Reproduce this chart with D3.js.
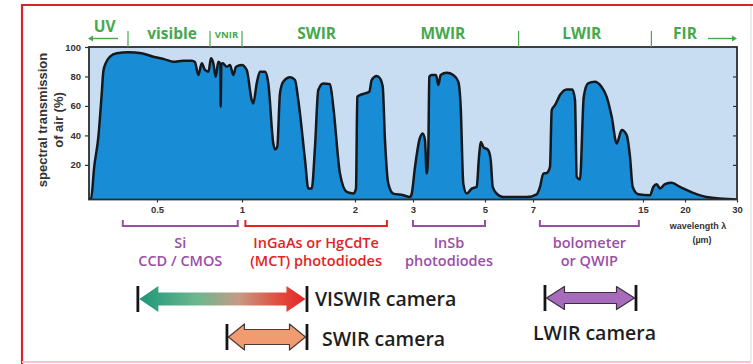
<!DOCTYPE html>
<html>
<head>
<meta charset="utf-8">
<script src="https://cdn.jsdelivr.net/npm/d3@7"></script>
<style>
  html, body { margin: 0; padding: 0; background: #fff; }
  svg { display: block; font-family: "Open Sans", "Noto Sans", sans-serif; }
</style>
</head>
<body>
<svg id="chart" width="753" height="364"></svg>
<script>
// Atmospheric transmission spectrum (wavelength in µm, transmission in %)
const wavelength = [
  0.25, 0.258, 0.270, 0.286, 0.299, 0.305, 0.314, 0.331, 0.357, 0.401,
  0.447, 0.487, 0.530, 0.562, 0.599, 0.631, 0.643, 0.656, 0.669, 0.681,
  0.694, 0.709, 0.731, 0.753, 0.778, 0.797, 0.800, 0.806, 0.819, 0.857,
  0.888, 0.918, 0.944, 0.997, 1.042, 1.086, 1.100, 1.130, 1.159, 1.204,
  1.233, 1.277, 1.292, 1.312, 1.336, 1.365, 1.425, 1.469, 1.498, 1.558,
  1.587, 1.617, 1.646, 1.675, 1.719, 1.779, 1.808, 1.867, 1.927, 1.985,
  2.017, 2.040, 2.086, 2.172, 2.247, 2.288, 2.374, 2.431, 2.478, 2.517,
  2.574, 2.660, 2.833, 2.948, 2.978, 3.056, 3.175, 3.269, 3.333, 3.381,
  3.425, 3.453, 3.519, 3.639, 3.703, 3.769, 3.936, 4.119, 4.258, 4.325,
  4.397, 4.492, 4.631, 4.769, 4.833, 4.881, 4.953, 5.138, 5.238, 5.321,
  5.488, 5.763, 6.738, 7.269, 7.509, 7.749, 7.996, 8.236, 8.36, 8.6,
  8.964, 9.451, 9.858, 10.055, 10.178, 10.418, 10.691, 11.004, 11.491, 11.978,
  12.36, 12.724, 13.087, 13.451, 13.815, 14.055, 14.25, 14.658, 15.833, 16.226,
  16.631, 17.024, 17.619, 18.417, 19.405, 21.566, 24.094, 30
];
const transmission = [
  -3, -2.9, 18.6, 39, 68.5, 83.2, 88.9, 93.4, 95.7, 96.4,
  95.7, 93.4, 91.6, 90, 90.7, 90.7, 89.8, 81, 88.9, 84.4,
  83.2, 92.3, 88.9, 79.8, 90, 88.4, 59.4, 88.4, 88.9, 86.6,
  87.8, 81, 86.6, 87.8, 84.4, 64, 61.7, 75.3, 83.2, 83.2,
  75.3, 34.5, 30.5, 32.2, 68.5, 76.4, 79.4, 77.6, 64, 23.2,
  3.9, 3.9, 32.2, 70.8, 75.3, 74.8, 59.4, 14.1, 1.6, 0.5,
  3.9, 66.2, 67.4, 68.5, 69.6, 77.6, 80.3, 78.7, 73, 36.8,
  7.3, 0.5, -0.6, -1.8, 0.5, 18.6, 36.8, 41.3, 36.8, 14.1,
  30, 79.8, 81, 81, 74.2, 81, 82.5, 81, 76.4, 59.4,
  7.3, 0.5, 3.9, 5, 25.4, 35.6, 32.2, 30, 23.2, 5,
  0.5, -1.8, -1.8, 0, 5, 14.1, 14.5, 18.6, 57.2, 60.6,
  67.4, 71.2, 71.2, 64, 11.8, 10, 66.2, 75.3, 76.4, 73,
  66.2, 52.6, 34.5, 43.6, 40.2, 25.4, 5, 0.1, -0.6, 5,
  6.9, 3.9, 6.9, 7.8, 5, 1, -1.8, -3.5
];

// Axis ticks
const xTicks = [0.5, 1, 2, 3, 5, 7, 15, 20, 30];
const xTickLabels = ["0.5", "1", "2", "3", "5", "7", "15", "20", "30"];
const yTicks = [20, 40, 60, 80, 100];

// Spectral band names along the top, with their boundaries (µm)
const bandNames = ["UV", "visible", "VNIR", "SWIR", "MWIR", "LWIR", "FIR"];
const bandLabelAt = [0.31, 0.557, 0.855, 1.66, 3.83, 10.55, 20];
const bandBounds = [0.4, 0.7, 1, 6.4, 16];

// Detector technologies and the ranges they cover (µm)
const detectorLines = [["Si", "CCD / CMOS"], ["InGaAs or HgCdTe", "(MCT) photodiodes"], ["InSb", "photodiodes"], ["bolometer", "or QWIP"]];
const detectorFrom = [0.38, 1.03, 3.0, 7.5];
const detectorTo = [0.96, 2.55, 5.0, 14.7];
const detectorColor = ["#9a4fa6", "#e2231f", "#9a4fa6", "#9a4fa6"];

// Camera types and their spectral ranges (µm)
const cameraNames = ["VISWIR camera", "SWIR camera", "LWIR camera"];
const cameraFrom = [0.434, 0.859, 7.87];
const cameraTo = [1.575, 1.575, 14.49];

const svg = d3.select("#chart");
const W = 753, H = 364;
const plot = { left: 89, right: 737, top: 47, bottom: 199.5 };

// Piecewise wavelength axis: each section is stretched independently
const xBreaks = [0.25, 0.4, 0.5, 0.7, 1, 2, 3, 5, 7, 15, 20, 30];
const xPixels = [89, 128, 157, 210, 242, 355, 413, 485, 533, 643, 685, 737];
const x = d3.scaleLinear().domain(xBreaks).range(xPixels).clamp(true);
const y = d3.scaleLinear().domain([-3.5, 100]).range([plot.bottom, plot.top]);

const green = "#46a84c";
const labelFont = "Liberation Sans, Arial, sans-serif";

// Outer frame
svg.append("line").attr("x1", 22).attr("x2", W).attr("y1", 5).attr("y2", 5)
  .attr("stroke", "#d8232a").attr("stroke-width", 2.2);
svg.append("line").attr("x1", 22).attr("x2", 22).attr("y1", 4).attr("y2", H)
  .attr("stroke", "#d8232a").attr("stroke-width", 2.2);
svg.append("line").attr("x1", 22).attr("x2", 751).attr("y1", 362).attr("y2", 362)
  .attr("stroke", "#f3c3cf").attr("stroke-width", 2);
svg.append("line").attr("x1", 751).attr("x2", 751).attr("y1", 6).attr("y2", 362)
  .attr("stroke", "#e6e6e6").attr("stroke-width", 1.5);

// Plot background
svg.append("rect")
  .attr("x", plot.left).attr("y", plot.top)
  .attr("width", plot.right - plot.left).attr("height", plot.bottom - plot.top)
  .attr("fill", "#c8ddf2");

const defs = svg.append("defs");
defs.append("clipPath").attr("id", "plotClip").append("rect")
  .attr("x", plot.left).attr("y", plot.top)
  .attr("width", plot.right - plot.left).attr("height", plot.bottom - plot.top);

const spectrum = d3.zip(wavelength, transmission);
const area = d3.area()
  .x(d => x(d[0])).y0(y(-3.5)).y1(d => y(d[1]))
  .curve(d3.curveMonotoneX);
const line = d3.line()
  .x(d => x(d[0])).y(d => y(d[1]))
  .curve(d3.curveMonotoneX);

const g = svg.append("g").attr("clip-path", "url(#plotClip)");
g.append("path").datum(spectrum).attr("d", area).attr("fill", "#198cd6");
g.append("path").datum(spectrum).attr("d", line)
  .attr("fill", "none").attr("stroke", "#15191e").attr("stroke-width", 2.5)
  .attr("stroke-linejoin", "round");

// Plot border
svg.append("rect")
  .attr("x", plot.left).attr("y", plot.top)
  .attr("width", plot.right - plot.left).attr("height", plot.bottom - plot.top)
  .attr("fill", "none").attr("stroke", "#2a2d30").attr("stroke-width", 1.8);

// Left axis
const yAxis = d3.axisLeft(y).tickValues(yTicks).tickSize(4).tickPadding(4);
const yg = svg.append("g").attr("transform", `translate(${plot.left},0)`).call(yAxis);
yg.select(".domain").remove();
yg.selectAll("line").attr("stroke", "#333").attr("stroke-width", 1.2);
yg.selectAll("text").attr("font-size", 9.5).attr("font-weight", 700)
  .attr("fill", "#333").attr("font-family", labelFont);

// Right axis: inner ticks only
const yAxisR = d3.axisLeft(y).tickValues(yTicks.slice(0, 4)).tickSize(4).tickFormat("");
const yr = svg.append("g").attr("transform", `translate(${plot.right},0)`).call(yAxisR);
yr.select(".domain").remove();
yr.selectAll("line").attr("stroke", "#333").attr("stroke-width", 1.2);

// Bottom axis
const xAxis = d3.axisBottom(x).tickValues(xTicks)
  .tickFormat((d, i) => xTickLabels[i]).tickSize(3).tickPadding(4);
const xg = svg.append("g").attr("transform", `translate(0,${plot.bottom})`).call(xAxis);
xg.select(".domain").remove();
xg.selectAll("line").attr("stroke", "#333").attr("stroke-width", 1.2);
xg.selectAll("text").attr("font-size", 9.5).attr("font-weight", 700)
  .attr("fill", "#333").attr("font-family", labelFont);

svg.append("text").attr("x", 698).attr("y", 229).attr("text-anchor", "middle")
  .attr("font-size", 9).attr("font-weight", 700).attr("fill", "#333")
  .attr("font-family", labelFont).text("wavelength λ");
svg.append("text").attr("x", 702).attr("y", 243).attr("text-anchor", "middle")
  .attr("font-size", 9).attr("font-weight", 700).attr("fill", "#333")
  .attr("font-family", labelFont).text("(µm)");

// Y axis title
const yTitle = svg.append("text")
  .attr("transform", "translate(47,120) rotate(-90)")
  .attr("text-anchor", "middle").attr("font-size", 13).attr("font-weight", 700)
  .attr("fill", "#333").attr("font-family", labelFont);
yTitle.append("tspan").attr("x", 0).attr("dy", 0).text("spectral transmission");
yTitle.append("tspan").attr("x", 0).attr("dy", 16).text("of air (%)");

// Band boundaries and names
const bandG = svg.append("g");
bandBounds.forEach(b => {
  bandG.append("line").attr("x1", x(b)).attr("x2", x(b))
    .attr("y1", 31).attr("y2", plot.top)
    .attr("stroke", green).attr("stroke-width", 1.2);
});
bandNames.forEach((name, i) => {
  const small = name === "VNIR";
  bandG.append("text")
    .attr("x", x(bandLabelAt[i]))
    .attr("y", name === "UV" ? 32 : (small ? 38 : 38.5))
    .attr("text-anchor", "middle")
    .attr("font-size", small ? 9.5 : 15.5)
    .attr("font-weight", 700)
    .attr("fill", green)
    .text(name);
});
// Arrows pointing out of the range: UV to the left, FIR to the right
const arrowHead = (x0, y0, dir) => `M${x0},${y0} l${-5 * dir},-3 l0,6 Z`;
bandG.append("line").attr("x1", 91).attr("x2", 118).attr("y1", 38.5).attr("y2", 38.5)
  .attr("stroke", green).attr("stroke-width", 1.4);
bandG.append("path").attr("d", arrowHead(88, 38.5, -1)).attr("fill", green);
bandG.append("line").attr("x1", 708).attr("x2", 733).attr("y1", 38.5).attr("y2", 38.5)
  .attr("stroke", green).attr("stroke-width", 1.4);
bandG.append("path").attr("d", arrowHead(737, 38.5, 1)).attr("fill", green);

// Detector brackets and labels
const detG = svg.append("g");
detectorLines.forEach((lines, i) => {
  const x1 = x(detectorFrom[i]), x2 = x(detectorTo[i]);
  detG.append("path")
    .attr("d", `M${x1},220 L${x1},226 L${x2},226 L${x2},220`)
    .attr("fill", "none").attr("stroke", detectorColor[i]).attr("stroke-width", 2);
  const cx = (x1 + x2) / 2;
  lines.forEach((t, j) => {
    detG.append("text")
      .attr("x", cx)
      .attr("y", 248 + j * 18)
      .attr("text-anchor", "middle")
      .attr("font-size", 14.5).attr("font-weight", 600)
      .attr("fill", detectorColor[i])
      .text(t);
  });
});

// Camera range arrows
const grad = defs.append("linearGradient").attr("id", "viswirGrad")
  .attr("x1", "0%").attr("x2", "100%");
[["0%", "#1d977a"], ["35%", "#6db78e"], ["60%", "#c79a86"], ["85%", "#e24a3c"], ["100%", "#e3232a"]]
  .forEach(([o, c]) => grad.append("stop").attr("offset", o).attr("stop-color", c));

function doubleArrow(x1, x2, cy, headLen, headHalf, shaftHalf) {
  return `M${x1},${cy} L${x1 + headLen},${cy - headHalf} L${x1 + headLen},${cy - shaftHalf}
    L${x2 - headLen},${cy - shaftHalf} L${x2 - headLen},${cy - headHalf} L${x2},${cy}
    L${x2 - headLen},${cy + headHalf} L${x2 - headLen},${cy + shaftHalf}
    L${x1 + headLen},${cy + shaftHalf} L${x1 + headLen},${cy + headHalf} Z`;
}
const cameraStyle = [
  { cy: 299, headLen: 19, headHalf: 13, shaftHalf: 6.5, fill: "url(#viswirGrad)", stroke: "none", textDx: 8, textY: 306 },
  { cy: 337, headLen: 16, headHalf: 13, shaftHalf: 7.5, fill: "#f29a70", stroke: "#4a3a33", textDx: 15, textY: 346 },
  { cy: 298, headLen: 18, headHalf: 11.5, shaftHalf: 5.5, fill: "#a66cbb", stroke: "#3a3040", textDx: 4, textY: 340 }
];
const camG = svg.append("g");
cameraNames.forEach((name, i) => {
  const s = cameraStyle[i];
  const x1 = x(cameraFrom[i]), x2 = x(cameraTo[i]);
  camG.append("path")
    .attr("d", doubleArrow(x1 + 1.5, x2 - 1.5, s.cy, s.headLen, s.headHalf, s.shaftHalf))
    .attr("fill", s.fill).attr("stroke", s.stroke).attr("stroke-width", 1.2)
    .attr("stroke-linejoin", "round");
  [x1, x2].forEach(xx => {
    camG.append("line").attr("x1", xx).attr("x2", xx)
      .attr("y1", s.cy - 13).attr("y2", s.cy + 13)
      .attr("stroke", "#151515").attr("stroke-width", 2.8);
  });
  const t = camG.append("text")
    .attr("font-size", 19.5).attr("font-weight", 600).attr("fill", "#1e1e1e")
    .attr("y", s.textY)
    .text(name);
  if (i === 2) {
    t.attr("x", (x1 + x2) / 2 + s.textDx).attr("text-anchor", "middle");
  } else {
    t.attr("x", x2 + s.textDx);
  }
});
</script>
</body>
</html>
